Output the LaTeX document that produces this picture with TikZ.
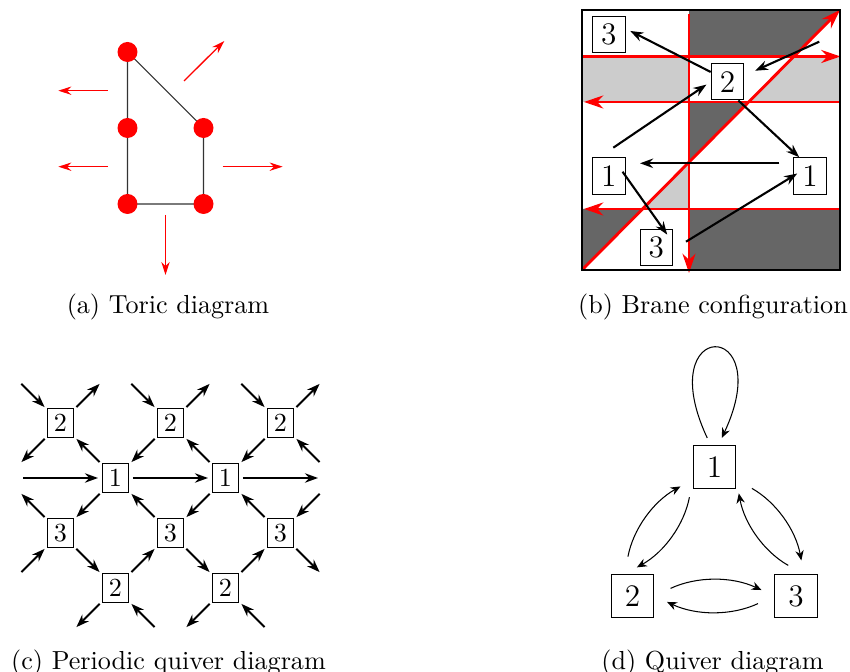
\documentclass[tikz,border=0pt]{standalone}
\usetikzlibrary{arrows.meta}
\begin{document}
\begin{tikzpicture}[x=0.3831pt, y=0.3831pt,
    webarr/.style={red, line width=0.5pt, -{Stealth[length=5pt,width=3.2pt]}},
    branearr/.style={red, line width=1.1pt, -{Stealth[length=7.4pt,width=5pt]}},
    fieldarr/.style={line width=0.8pt, -{Stealth[length=5pt,width=3.6pt]}},
    bbox/.style={draw, fill=white, font=\large, inner sep=0pt, minimum width=12.45pt, minimum height=14pt},
    pbox/.style={draw, fill=white, inner sep=0pt, minimum width=9.8pt, minimum height=11pt},
    parr/.style={line width=0.8pt, shorten <=8.6pt, shorten >=8.6pt},
    harr/.style={line width=0.8pt, shorten <=6.7pt, shorten >=6.7pt},
    dbox/.style={draw, font=\large, inner sep=0pt, minimum size=16.25pt},
    darr/.style={->, shorten <=6.9pt, shorten >=5.4pt},
    captext/.style={anchor=base}]
    \useasboundingbox (0,0) rectangle (850,672);

    % (a) Toric diagram
    \coordinate (pA) at (127.5,620);
    \coordinate (pB) at (127.5,544);
    \coordinate (pC) at (203.5,544);
    \coordinate (pD) at (127.5,468);
    \coordinate (pE) at (203.5,468);
    \draw[black!80] (pA) -- (pC) -- (pE) -- (pD) -- (pB) -- cycle;
    \foreach \p in {pA,pB,pC,pD,pE}
        \fill[red] (\p) circle (3.83pt);
    % external legs
    \draw[webarr] (107.7,581.3) -- (58.3,581.3);
    \draw[webarr] (107.7,505.3) -- (58.3,505.3);
    \draw[webarr] (222.7,505.3) -- (282.7,505.3);
    \draw[webarr] (165.5,457) -- (165.5,397);
    \draw[webarr] (184,591) -- (224.3,631);
    \node[captext] (capa) at (168,358) {(a) Toric diagram};

    % (b) Brane configuration
    % shaded faces
    \fill[black!60] (689,615.5) -- (689,662) -- (840,662) -- (793.9,615.5) -- cycle;
    \fill[black!60] (689,570) -- (748.7,570) -- (689,509.8) -- cycle;
    \fill[black!60] (582,463) -- (642.5,463) -- (582,402) -- cycle;
    \fill[black!60] (689,402) rectangle (840,463);
    \fill[black!20] (582,570) rectangle (689,615.5);
    \fill[black!20] (793.9,615.5) -- (840,615.5) -- (840,570) -- (748.7,570) -- cycle;
    \fill[black!20] (689,509.8) -- (689,463) -- (642.5,463) -- cycle;
    % branes
    \draw[branearr] (689,658) -- (689,399);
    \draw[branearr] (582,615.5) -- (840.5,615.5);
    \draw[branearr] (840,570) -- (584,570);
    \draw[branearr] (840,463) -- (584,463);
    \draw[branearr] (582,402) -- (840,662);
    \draw[line width=0.8pt] (582,402) rectangle (840,662);
    % gauge groups
    \node[bbox] (b3t) at (608.8,637.3) {3};
    \node[bbox] (b2) at (727.5,590.3) {2};
    \node[bbox] (b1l) at (608.8,496) {1};
    \node[bbox] (b1r) at (810,496) {1};
    \node[bbox] (b3b) at (656.3,424.3) {3};
    % bifundamentals
    \coordinate (bin) at (613.3,524.3);
    \coordinate (cin) at (819.3,630.3);
    \coordinate (eout) at (779.3,508.7);
    \coordinate (ein) at (640,508.7);
    \coordinate (gout) at (686,430.3);
    \draw[fieldarr, shorten >=2pt] (b2.150) -- (b3t.20);
    \draw[fieldarr, shorten >=2pt] (bin) -- (b2.west);
    \draw[fieldarr, shorten >=4.5pt] (cin) -- (b2.20);
    \draw[fieldarr] (b2.-60) -- (b1r.120);
    \draw[fieldarr] (eout) -- (ein);
    \draw[fieldarr, shorten <=-2pt, shorten >=-2.7pt] (b1l.east) -- (b3b.70);
    \draw[fieldarr, shorten >=-1.8pt] (gout) -- (b1r.west);
    \node[captext] (capb) at (713,358) {(b) Brane configuration};

    % (c) Periodic quiver diagram
    \begin{scope}[>={Stealth[length=5pt,width=3.6pt]}]
        \foreach \n/\x/\y/\g in {c2a/60.5/249/2, c2b/170.5/249/2, c2c/280.5/249/2,
                c1a/115.5/194/1, c1b/225.5/194/1,
                c3a/60.5/139/3, c3b/170.5/139/3, c3c/280.5/139/3,
                c2d/115.5/84/2, c2e/225.5/84/2}
            \node[pbox] (\n) at (\x,\y) {\g};
        % arrows inside the cell
        \foreach \s/\t in {c1a/c2a, c2b/c1a, c1a/c3a, c3b/c1a,
                c1b/c2b, c2c/c1b, c1b/c3b, c3c/c1b,
                c3a/c2d, c2d/c3b, c3b/c2e, c2e/c3c}
            \draw[parr, ->] (\s.center) -- (\t.center);
        % arrows leaving the cell
        \foreach \n/\dx/\dy in {c2a/55/55, c2b/55/55, c2c/55/55, c2a/-55/-55,
                c3a/-55/55, c3c/55/-55, c2d/-55/-55, c2e/-55/-55}
            \draw[parr, ->] (\n.center) -- ++(\dx,\dy);
        % arrows entering the cell
        \foreach \n/\dx/\dy in {c2a/-55/55, c2b/-55/55, c2c/-55/55, c2c/55/-55,
                c3a/-55/-55, c3c/55/55, c2d/55/-55, c2e/55/-55}
            \draw[parr, <-] (\n.center) -- ++(\dx,\dy);
        \draw[harr, <-] (c1a.center) -- ++(-110,0);
        \draw[harr, ->] (c1a.center) -- (c1b.center);
        \draw[harr, ->] (c1b.center) -- ++(110,0);
    \end{scope}
    \node[captext] (capc) at (168.5,2.7) {(c) Periodic quiver diagram};

    % (d) Quiver diagram
    \begin{scope}[>={Stealth[length=3.8pt,width=3.2pt]}]
        \node[dbox] (d1) at (714.5,205) {1};
        \node[dbox] (d2) at (632.5,76) {2};
        \node[dbox] (d3) at (796,76) {3};
        \draw[->, shorten <=3.1pt, shorten >=3.1pt] (d1.100) .. controls +(-60,128) and +(60,128) .. (d1.80);
        \draw[darr] (d2.110) to[bend left=25] (d1.210);
        \draw[darr] (d1.210) to[bend left=25] (d2.110);
        \draw[darr] (d1.330) to[bend left=25] (d3.70);
        \draw[darr] (d3.70) to[bend left=25] (d1.330);
        \draw[darr] (d2.east) to[bend left=25] (d3.west);
        \draw[darr] (d3.west) to[bend left=25] (d2.east);
    \end{scope}
    \node[captext] (capd) at (712.5,2.7) {(d) Quiver diagram};
\end{tikzpicture}
\end{document}
